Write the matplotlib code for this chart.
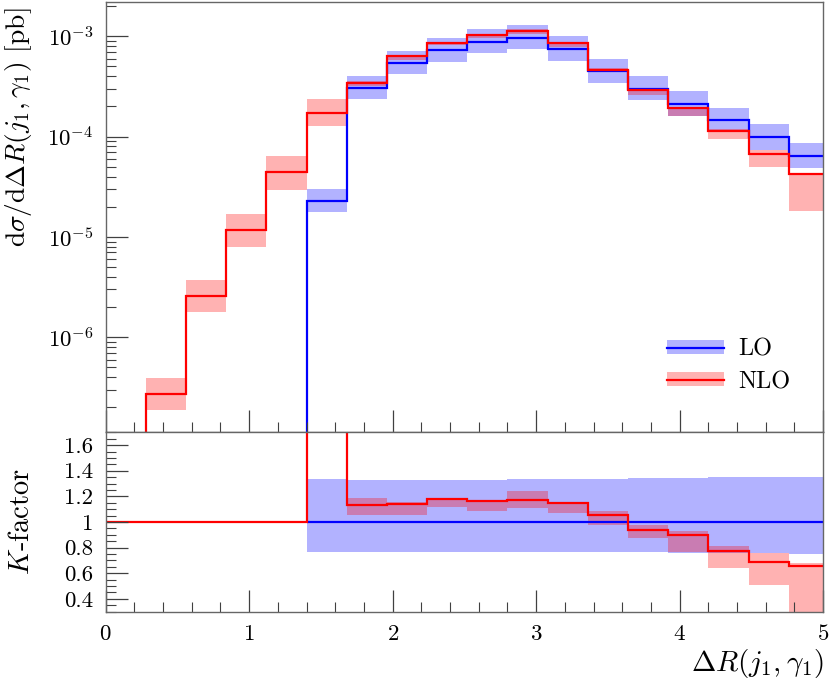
import numpy as np
import matplotlib
matplotlib.use("Agg")
import matplotlib.pyplot as plt
from matplotlib.patches import Patch
from matplotlib.lines import Line2D
from matplotlib.ticker import MultipleLocator, FuncFormatter, LogLocator

plt.rcParams["font.family"] = "serif"
plt.rcParams["font.serif"] = ["cmr10"]
plt.rcParams["mathtext.fontset"] = "cm"
plt.rcParams["axes.formatter.use_mathtext"] = True

# bins in Delta R(j1, gamma1), width 0.28 (last bin cut at 5)
bin_edges = [0.0, 0.28, 0.56, 0.84, 1.12, 1.40, 1.68, 1.96, 2.24, 2.52,
             2.80, 3.08, 3.36, 3.64, 3.92, 4.20, 4.48, 4.76, 5.04]

# LO dsigma/dDeltaR [pb], scale band
lo = [0, 0, 0, 0, 0, 2.3e-5, 3.05e-4, 5.47e-4, 7.3e-4, 8.77e-4,
      9.6e-4, 7.4e-4, 4.48e-4, 3.0e-4, 2.1e-4, 1.46e-4, 9.8e-5, 6.4e-5]
lo_up = [0, 0, 0, 0, 0, 3.03e-5, 4.0e-4, 7.1e-4, 9.6e-4, 1.17e-3,
         1.29e-3, 1.0e-3, 5.9e-4, 4.06e-4, 2.85e-4, 1.95e-4, 1.33e-4, 8.7e-5]
lo_dn = [0, 0, 0, 0, 0, 1.77e-5, 2.35e-4, 4.25e-4, 5.6e-4, 6.8e-4,
         7.5e-4, 5.7e-4, 3.42e-4, 2.32e-4, 1.62e-4, 1.11e-4, 7.4e-5, 4.9e-5]

# NLO
nlo = [0, 2.7e-7, 2.6e-6, 1.16e-5, 4.4e-5, 1.72e-4, 3.45e-4, 6.3e-4, 8.6e-4, 1.02e-3,
       1.13e-3, 8.6e-4, 4.58e-4, 2.9e-4, 1.93e-4, 1.15e-4, 6.7e-5, 4.24e-5]
nlo_up = [0, 3.9e-7, 3.75e-6, 1.7e-5, 6.4e-5, 2.37e-4, 3.62e-4, 6.4e-4, 8.7e-4, 1.03e-3,
          1.19e-3, 8.7e-4, 4.87e-4, 2.94e-4, 1.95e-4, 1.19e-4, 7.4e-5, 4.3e-5]
nlo_dn = [0, 1.9e-7, 1.78e-6, 7.9e-6, 2.96e-5, 1.28e-4, 3.22e-4, 5.78e-4, 8.14e-4, 9.52e-4,
          1.063e-3, 7.9e-4, 4.39e-4, 2.62e-4, 1.6e-4, 9.4e-5, 5.0e-5, 1.81e-5]

# K-factor panel (NLO / LO)
nan = np.nan
k_nlo = [1, 1, 1, 1, 1, 7.5, 1.133, 1.144, 1.183, 1.162,
         1.175, 1.149, 1.055, 0.935, 0.898, 0.775, 0.69, 0.657]
k_nlo_up = [nan, nan, nan, nan, nan, nan, 1.188, 1.155, 1.19, 1.17,
            1.243, 1.15, 1.086, 0.98, 0.93, 0.812, 0.757, 0.676]
k_nlo_dn = [nan, nan, nan, nan, nan, nan, 1.055, 1.057, 1.115, 1.086,
            1.107, 1.068, 0.98, 0.872, 0.762, 0.642, 0.509, 0.28]
k_lo = [nan, nan, nan, nan, nan, 1, 1, 1, 1, 1, 1, 1, 1, 1, 1, 1, 1, 1]
k_lo_up = [nan, nan, nan, nan, nan, 1.335, 1.33, 1.33, 1.33, 1.33,
           1.335, 1.335, 1.335, 1.34, 1.34, 1.35, 1.35, 1.355]
k_lo_dn = [nan, nan, nan, nan, nan, 0.765, 0.767, 0.767, 0.767, 0.767,
           0.765, 0.765, 0.765, 0.762, 0.76, 0.757, 0.757, 0.754]

BLUE = "#0000ff"
RED = "#ff0000"
edges = np.array(bin_edges)


def tiny(a):
    # empty bins -> far below the axis so the step drops off the plot
    a = np.array(a, dtype=float)
    return np.where(a > 0, a, 1e-12)


fig = plt.figure(figsize=(8.3, 6.81), dpi=100)
ax = fig.add_axes([0.1273, 0.3652, 0.8645, 0.6314])
axk = fig.add_axes([0.1273, 0.1018, 0.8645, 0.2634])

# top panel
ax.set_yscale("log")
m = np.array(lo) > 0
ax.stairs(np.array(lo_up)[m], edges[5:], baseline=np.array(lo_dn)[m], fill=True,
          color=BLUE, alpha=0.3, lw=0)
m = np.array(nlo) > 0
ax.stairs(np.array(nlo_up)[m], edges[1:], baseline=np.array(nlo_dn)[m], fill=True,
          color=RED, alpha=0.3, lw=0)
ax.stairs(tiny(lo), edges, baseline=None, color=BLUE, lw=1.6)
ax.stairs(tiny(nlo), edges, baseline=None, color=RED, lw=1.6)
ax.set_xlim(0, 5)
ax.set_ylim(1.13e-7, 2.18e-3)

ax.yaxis.set_major_locator(LogLocator(base=10, numticks=12))
ax.yaxis.set_minor_locator(LogLocator(base=10, subs=np.arange(2, 10), numticks=12))
ax.yaxis.set_major_formatter(FuncFormatter(lambda v, p: r"$10^{%d}$" % round(np.log10(v))))
ax.xaxis.set_major_locator(MultipleLocator(1))
ax.xaxis.set_minor_locator(MultipleLocator(0.2))
ax.tick_params(axis="x", labelbottom=False)
ax.set_ylabel(r"$\mathrm{d}\sigma/\mathrm{d}\Delta R(j_1,\gamma_1)$ [pb]", fontsize=19.8, loc="top")
ax.yaxis.set_label_coords(-0.1, 0.987)

lo_h = (Patch(facecolor=BLUE, alpha=0.3, lw=0), Line2D([], [], color=BLUE, lw=1.6))
nlo_h = (Patch(facecolor=RED, alpha=0.3, lw=0), Line2D([], [], color=RED, lw=1.6))
ax.legend([lo_h, nlo_h], ["LO", "NLO"], loc="upper left", bbox_to_anchor=(0.782, 0.218),
          frameon=False, fontsize=17.5, handlelength=2.35, handleheight=0.5,
          handletextpad=0.6, labelspacing=0.42, borderpad=0, borderaxespad=0)

# K-factor panel
axk.stairs(np.array(k_lo_up), edges, baseline=np.array(k_lo_dn), fill=True,
           color=BLUE, alpha=0.3, lw=0)
axk.stairs(np.array(k_nlo_up), edges, baseline=np.array(k_nlo_dn), fill=True,
           color=RED, alpha=0.3, lw=0)
axk.stairs(np.array(k_lo), edges, baseline=None, color=BLUE, lw=1.6)
axk.stairs(np.array(k_nlo), edges, baseline=None, color=RED, lw=1.6)
axk.set_xlim(0, 5)
axk.set_ylim(0.3, 1.7)
axk.yaxis.set_major_locator(MultipleLocator(0.2))
axk.yaxis.set_minor_locator(MultipleLocator(0.05))
axk.yaxis.set_major_formatter(FuncFormatter(lambda v, p: "%g" % round(v, 2)))
axk.xaxis.set_major_locator(MultipleLocator(1))
axk.xaxis.set_minor_locator(MultipleLocator(0.2))
axk.set_ylabel(r"$K$-factor", fontsize=20.5)
axk.yaxis.set_label_coords(-0.098, 0.5)
axk.set_xlabel(r"$\Delta R(j_1,\gamma_1)$", fontsize=21, loc="right", labelpad=2)

for a in (ax, axk):
    for s in a.spines.values():
        s.set_color("0.4")
        s.set_linewidth(1.0)
    a.tick_params(which="both", direction="in", top=False, right=False, color="0.25",
                  labelsize=16.5)
    a.tick_params(which="major", length=16, width=0.9)
    a.tick_params(which="minor", length=7.5, width=0.8)
    a.tick_params(axis="y", pad=9)
    a.tick_params(axis="x", pad=9)

fig.savefig("out.png", dpi=100)
